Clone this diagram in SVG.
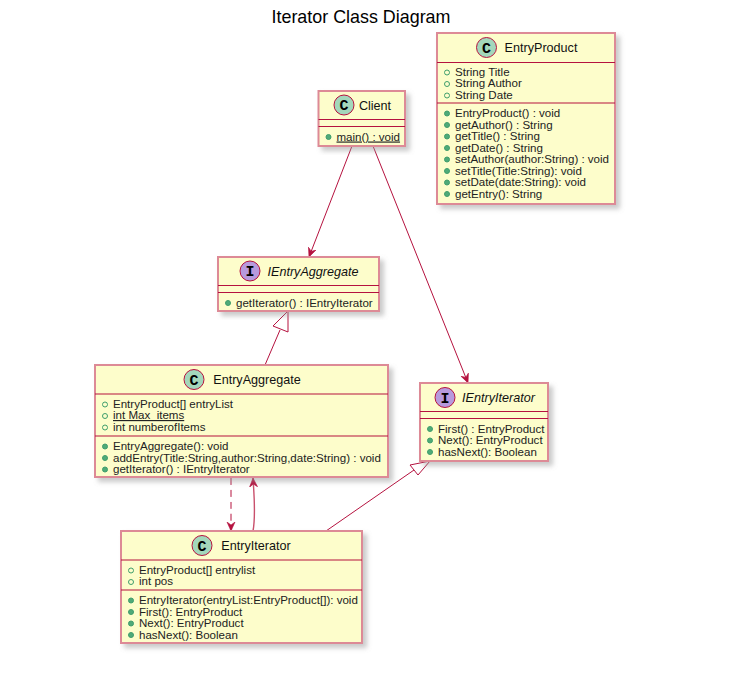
<svg xmlns="http://www.w3.org/2000/svg" width="735" height="683" viewBox="0 0 735 683">
<defs>
<filter id="sh" x="-10%" y="-10%" width="125%" height="125%"><feGaussianBlur in="SourceAlpha" stdDeviation="2.5"/><feOffset dx="3.5" dy="3.5"/><feColorMatrix values="0 0 0 0 0.3 0 0 0 0 0.3 0 0 0 0 0.3 0 0 0 0.5 0"/><feMerge><feMergeNode/><feMergeNode in="SourceGraphic"/></feMerge></filter>
<marker id="open" markerUnits="userSpaceOnUse" markerWidth="12" markerHeight="12" refX="9" refY="5" orient="auto"><path d="M0 1 L9 5 L0 9 L3 5 Z" fill="#b5123f" stroke="#b5123f" stroke-width="0.6"/></marker>
</defs>
<style>
text{font-family:"Liberation Sans",Arial,sans-serif;font-size:11.55px;fill:#222}
.t{font-size:12.6px;text-anchor:middle;fill:#111}
.i{font-style:italic}
.h{font-size:17.9px;text-anchor:middle;fill:#000}
.u{text-decoration:underline}
.b{fill:#fdfdcb;stroke:#dd8a96;stroke-width:2;filter:url(#sh)}
.l{stroke:#b5123f;stroke-width:1.1;fill:none}
.c{fill:#a3d7bb;stroke:#b5123f;stroke-width:1}
.p{fill:#b79add;stroke:#b5123f;stroke-width:1}
.g{font-size:15px;font-weight:700;text-anchor:middle;font-family:"Liberation Mono",monospace;fill:#000}
.o{fill:none;stroke:#3f9e6c;stroke-width:1}
.m{fill:#4faa78;stroke:#3f9e6c;stroke-width:1}
.e{fill:none;stroke:#b5123f;stroke-width:1}
.w{fill:#fff}
</style>
<text class="h" x="361" y="23">Iterator Class Diagram</text>
<g id="connectors">
<path id="c1" class="e" d="M352 146 L309 257" marker-end="url(#open)"/>
<path id="c2" class="e" d="M373 146 L468 383" marker-end="url(#open)"/>
<path id="c3" class="e" d="M265 365 L280 330"/>
<path class="e w" d="M288 311 L273 326 L288 332 Z"/>
<path id="c4" class="e" d="M231 478 C231 495 231 512 231 531" stroke-dasharray="7,5" marker-end="url(#open)"/>
<path id="c5" class="e" d="M253 531 C256 515 254 495 253 478" style="stroke:#c9506c;stroke-width:1.4" marker-end="url(#open)"/>
<path id="c6" class="e" d="M326 531 L414 470"/>
<path class="e w" d="M430 461 L410 465 L418 475 Z"/>
</g>
<g id="EntryProduct">
<rect class="b" x="437" y="33" width="178" height="171"/>
<circle class="c" cx="486.500" cy="47.500" r="10"/><text class="g" x="486.500" y="52.500">C</text>
<text class="t" x="541" y="52">EntryProduct</text>
<path class="l" d="M437 62.500H615M437 103H615"/>
<circle class="o" cx="447" cy="72.500" r="2.500"/><text x="455" y="75.500">String Title</text>
<circle class="o" cx="447" cy="84" r="2.500"/><text x="455" y="87">String Author</text>
<circle class="o" cx="447" cy="95.500" r="2.500"/><text x="455" y="98.500">String Date</text>
<circle class="m" cx="447" cy="113.500" r="2.500"/><text x="455" y="117">EntryProduct() : void</text>
<circle class="m" cx="447" cy="125" r="2.500"/><text x="455" y="128.500">getAuthor() : String</text>
<circle class="m" cx="447" cy="136.500" r="2.500"/><text x="455" y="140">getTitle() : String</text>
<circle class="m" cx="447" cy="148" r="2.500"/><text x="455" y="151.500">getDate() : String</text>
<circle class="m" cx="447" cy="159.500" r="2.500"/><text x="455" y="163">setAuthor(author:String) : void</text>
<circle class="m" cx="447" cy="171" r="2.500"/><text x="455" y="174.500">setTitle(Title:String): void</text>
<circle class="m" cx="447" cy="182.500" r="2.500"/><text x="455" y="186">setDate(date:String): void</text>
<circle class="m" cx="447" cy="194" r="2.500"/><text x="455" y="197.500">getEntry(): String</text>
</g>
<g id="Client">
<rect class="b" x="318.500" y="91" width="86.500" height="55"/>
<circle class="c" cx="344" cy="105" r="10"/><text class="g" x="344" y="110">C</text>
<text class="t" x="375" y="109.500">Client</text>
<path class="l" d="M318.500 119.500H405M318.500 126.500H405"/>
<circle class="m" cx="328.500" cy="137" r="2.500"/><text class="u" x="336.500" y="140.500">main() : void</text>
</g>
<g id="IEntryAggregate">
<rect class="b" x="218" y="257" width="161" height="54"/>
<circle class="p" cx="250" cy="271" r="10"/><text class="g" x="250" y="276">I</text>
<text class="t i" x="313" y="275.500">IEntryAggregate</text>
<path class="l" d="M218 285.500H379M218 292.500H379"/>
<circle class="m" cx="228" cy="303" r="2.500"/><text x="236" y="306.500">getIterator() : IEntryIterator</text>
</g>
<g id="EntryAggregate">
<rect class="b" x="95" y="365" width="293" height="112"/>
<circle class="c" cx="194" cy="379.500" r="10"/><text class="g" x="194" y="384.500">C</text>
<text class="t" x="257" y="384">EntryAggregate</text>
<path class="l" d="M95 394H388M95 436H388"/>
<circle class="o" cx="105" cy="404.500" r="2.500"/><text x="113" y="407.500">EntryProduct[] entryList</text>
<circle class="o" cx="105" cy="416" r="2.500"/><text class="u" x="113" y="419">int Max_items</text>
<circle class="o" cx="105" cy="427.500" r="2.500"/><text x="113" y="430.500">int numberofItems</text>
<circle class="m" cx="105" cy="446.500" r="2.500"/><text x="113" y="450">EntryAggregate(): void</text>
<circle class="m" cx="105" cy="458" r="2.500"/><text x="113" y="461.500">addEntry(Title:String,author:String,date:String) : void</text>
<circle class="m" cx="105" cy="469.500" r="2.500"/><text x="113" y="473">getIterator() : IEntryIterator</text>
</g>
<g id="IEntryIterator">
<rect class="b" x="420" y="383" width="128" height="78"/>
<circle class="p" cx="445" cy="397.500" r="10"/><text class="g" x="445" y="402.500">I</text>
<text class="t i" x="498.500" y="402">IEntryIterator</text>
<path class="l" d="M420 411.500H548M420 418.500H548"/>
<circle class="m" cx="430" cy="429" r="2.500"/><text x="438" y="432.500">First() : EntryProduct</text>
<circle class="m" cx="430" cy="440.500" r="2.500"/><text x="438" y="444">Next(): EntryProduct</text>
<circle class="m" cx="430" cy="452" r="2.500"/><text x="438" y="455.500">hasNext(): Boolean</text>
</g>
<g id="EntryIterator">
<rect class="b" x="121" y="531" width="241" height="112"/>
<circle class="c" cx="202" cy="545.500" r="10"/><text class="g" x="202" y="550.500">C</text>
<text class="t" x="256" y="550">EntryIterator</text>
<path class="l" d="M121 560H362M121 590H362"/>
<circle class="o" cx="131" cy="570.500" r="2.500"/><text x="139" y="573.500">EntryProduct[] entrylist</text>
<circle class="o" cx="131" cy="582" r="2.500"/><text x="139" y="585">int pos</text>
<circle class="m" cx="131" cy="600.500" r="2.500"/><text x="139" y="604">EntryIterator(entryList:EntryProduct[]): void</text>
<circle class="m" cx="131" cy="612" r="2.500"/><text x="139" y="615.500">First(): EntryProduct</text>
<circle class="m" cx="131" cy="623.500" r="2.500"/><text x="139" y="627">Next(): EntryProduct</text>
<circle class="m" cx="131" cy="635" r="2.500"/><text x="139" y="638.500">hasNext(): Boolean</text>
</g>
</svg>
